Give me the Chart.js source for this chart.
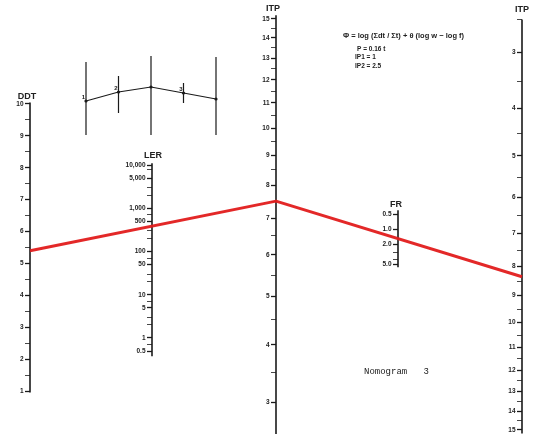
<!DOCTYPE html>
<html><head><meta charset="utf-8">
<script src="https://cdn.jsdelivr.net/npm/chart.js@4/dist/chart.umd.min.js"></script>
<style>html,body{margin:0;padding:0;background:#fff;}#wrap{width:538px;height:434px;}</style>
</head><body><div id="wrap"><canvas id="c" width="538" height="434"></canvas></div>
<script>
// ---------------- data ----------------
const ddtTicks   = [1,2,3,4,5,6,7,8,9,10];
const ddtLabels  = ['1','2','3','4','5','6','7','8','9','10'];
const ddtMinor   = [1.5,2.5,3.5,4.5,5.5,6.5,7.5,8.5,9.5];
const lerTicks   = [10000,5000,1000,500,100,50,10,5,1,0.5];
const lerLabels  = ['10,000','5,000','1,000','500','100','50','10','5','1','0.5'];
const lerMinor   = [2000,3000,200,300,20,30,2,3,0.7,8000,700,70,7];
const itpTicks   = [3,4,5,6,7,8,9,10,11,12,13,14,15];
const itpLabels  = ['3','4','5','6','7','8','9','10','11','12','13','14','15'];
const itpMinor   = [2.5,3.5,4.5,5.5,6.5,7.5,8.5,9.5,10.5,11.5,12.5,13.5,14.5];
const frTicks    = [0.5,1,2,5];
const frLabels   = ['0.5','1.0','2.0','5.0'];
const frMinor    = [3,4];
// solution line (DDT -> ITP -> ITP)
const lineAxes   = ['ddt','itp','itp2'];
const lineValues = [5.4, 7.5, 8.35];
// small key sketch (top left)
const insetAxes   = [1,2,3,4,5];
const insetTop    = [4.9,3.5,5.5,2.8,5.4];
const insetBottom = [-2.4,-0.2,-2.4,0.8,-2.4];
const insetLine   = [1.0,1.9,2.4,1.8,1.2];
const insetNames  = ['1','2','','3',''];

// ---------------- layout ----------------
const H = 434;
const axisX = {ddt:30, ler:152, itp:276, fr:398, itp2:522};
const g = v => Math.log10(v + 2);          // ITP scale transform
function range(v1,p1,v2,p2,size){
  size = size || H;
  const f = p => v1 + (p - p1) * (v2 - v1) / (p2 - p1);
  const a = f(0), b = f(size);
  return {min: Math.min(a,b), max: Math.max(a,b), reverse: a < b};
}
function logRange(v1,p1,v2,p2){
  const r = range(Math.log10(v1),p1,Math.log10(v2),p2);
  return {min: Math.pow(10,r.min), max: Math.pow(10,r.max), reverse: r.reverse};
}
const rDDT  = range(1,391,10,104);
const rLER  = logRange(10000,165,0.5,351);
const rITP  = range(g(15),19,g(3),402);
const rITP2 = range(g(3),52,g(15),430);
const rFR   = logRange(0.5,214,5,264);
const rIX   = range(1,86,5,216,538);
const rIY   = range(0,111,10,11);

const INK = '#1a1a1a';
const GAP = '\u2002\u2002';
function axisScale(id, r, type, majors, minors, labels, tf){
  tf = tf || (v => v);
  return {
    type, position: {x: axisX[id]}, min: r.min, max: r.max, reverse: r.reverse,
    border: {display:false},
    grid: {drawOnChartArea:false, drawTicks:true, tickLength:5, color:INK,
      tickColor: INK,
      tickWidth: c => (c.tick && c.tick.major) ? 1.3 : 0.8},
    ticks: {autoSkip:false, padding:2, color:'#222',
      font: {family:'Liberation Sans', size:6.5, weight:'bold'},
      callback: (v,i,t) => (t[i] && t[i].major) ? labels[i] + GAP : ''},
    afterBuildTicks: s => {
      s.ticks = majors.map(v => ({value: tf(v), major:true}))
        .concat(minors.map(v => ({value: tf(v), major:false})));
    },
    afterFit: s => { s.paddingTop = 0; s.paddingBottom = 0; s.paddingLeft = 0; s.paddingRight = 0; }
  };
}

function spine(id, lo, hi, tf){
  tf = tf || (v => v);
  return {data:[{x:axisX[id], y:tf(lo)},{x:axisX[id], y:tf(hi)}], yAxisID:id, xAxisID:'x',
    borderColor:INK, borderWidth:1.6, pointRadius:0, pointHoverRadius:0, fill:false};
}

const insetAxisData = [];
insetAxes.forEach((a,i) => {
  insetAxisData.push({x:a, y:insetTop[i]},{x:a, y:insetBottom[i]},{x:a, y:null});
});

const textPlugin = {
  id:'texts',
  afterDatasetsDraw(chart){
    const c = chart.ctx, sx = chart.scales.x;
    // solution line through each axis' own scale
    c.save();
    c.strokeStyle = 'rgba(226,28,28,0.95)';
    c.lineWidth = 3; c.lineJoin = 'round';
    c.beginPath();
    lineAxes.forEach((id,i) => {
      const sc = chart.scales[id];
      const v = (id === 'itp' || id === 'itp2') ? g(lineValues[i]) : lineValues[i];
      const px = sx.getPixelForValue(axisX[id]), py = sc.getPixelForValue(v);
      if (i === 0) c.moveTo(px,py); else c.lineTo(px,py);
    });
    c.stroke();
    // axis titles
    c.fillStyle = '#222'; c.textAlign = 'center'; c.textBaseline = 'middle';
    c.font = 'bold 9px "Liberation Sans"';
    c.fillText('DDT', 27, 97);
    c.fillText('LER', 153, 156);
    c.fillText('ITP', 273, 9);
    c.fillText('FR', 396, 205);
    c.fillText('ITP', 522, 10);
    // formula block
    c.textAlign = 'left';
    c.font = 'bold 7.5px "Liberation Sans"';
    c.fillText('Φ = log (\u03A3dt / \u03A3t) + θ (log w − log f)', 343, 36);
    c.font = 'bold 6.5px "Liberation Sans"';
    c.fillText('P = 0.16 t', 357, 49);
    c.fillText('IP1 = 1', 355, 57);
    c.fillText('IP2 = 2.5', 355, 66);
    // caption
    c.font = '9px "Liberation Mono"';
    c.fillText('Nomogram   3', 364, 372);
    // inset labels
    const ix = chart.scales.ix, iy = chart.scales.iy;
    c.font = 'bold 6px "Liberation Sans"'; c.textAlign = 'right';
    insetAxes.forEach((a,i) => {
      if (!insetNames[i]) return;
      c.fillText(insetNames[i], ix.getPixelForValue(a) - 1, iy.getPixelForValue(insetLine[i]) - 4);
    });
    c.restore();
  }
};

new Chart(document.getElementById('c'), {
  type:'line',
  data:{datasets:[
    spine('ddt', 0.95, 10.05),
    spine('ler', 0.38, 11000),
    spine('itp', 2.3, 15.2, g),
    spine('fr', 0.42, 5.8),
    spine('itp2', 2.5, 15.2, g),
    {data: insetAxisData, xAxisID:'ix', yAxisID:'iy', borderColor:INK, borderWidth:1.2,
      pointRadius:0, pointHoverRadius:0, spanGaps:false},
    {data: insetAxes.map((a,i) => ({x:a, y:insetLine[i]})), xAxisID:'ix', yAxisID:'iy',
      borderColor:INK, borderWidth:1.1, pointRadius:1.6, pointHoverRadius:0,
      pointBackgroundColor:INK, pointBorderWidth:0}
  ]},
  options:{
    responsive:false, animation:false, events:[],
    layout:{padding:0, autoPadding:false},
    plugins:{legend:{display:false}, tooltip:{enabled:false}},
    scales:{
      x:{type:'linear', min:0, max:538, display:false},
      ix:{type:'linear', axis:'x', min: rIX.min, max: rIX.max, display:false},
      iy:{type:'linear', axis:'y', min: rIY.min, max: rIY.max, display:false},
      ddt: axisScale('ddt', rDDT, 'linear', ddtTicks, ddtMinor, ddtLabels),
      ler: axisScale('ler', rLER, 'logarithmic', lerTicks, lerMinor, lerLabels),
      itp: axisScale('itp', rITP, 'linear', itpTicks, itpMinor, itpLabels, g),
      fr:  axisScale('fr',  rFR,  'logarithmic', frTicks, frMinor, frLabels),
      itp2:axisScale('itp2', rITP2, 'linear', itpTicks, itpMinor, itpLabels, g)
    }
  },
  plugins:[textPlugin]
});
</script></body></html>
